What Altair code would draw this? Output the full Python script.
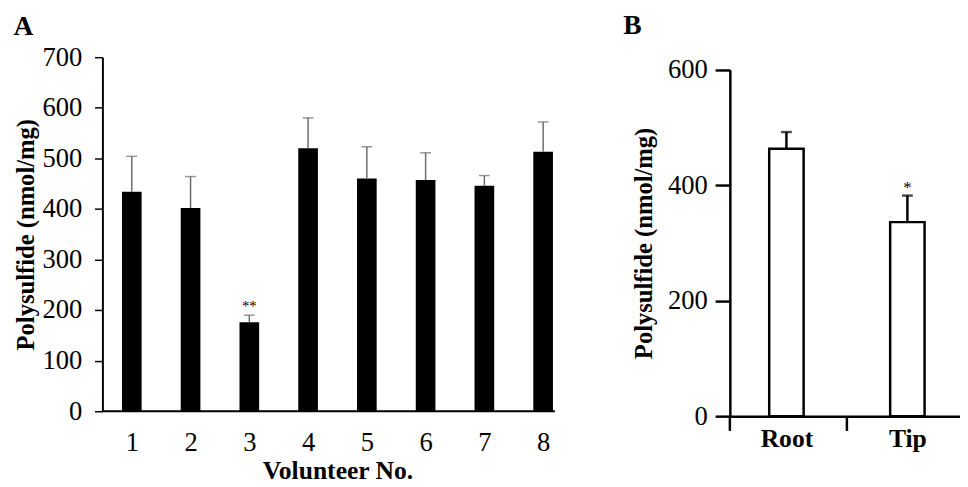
import altair as alt
import pandas as pd

FONT = "Liberation Serif"

# ---- Panel A data ----
volunteers = [1, 2, 3, 4, 5, 6, 7, 8]
means_a = [434, 402, 176, 520, 460, 457, 446, 513]
sds_a = [70, 62, 14, 60, 63, 54, 20, 59]
stars_a = ["", "", "**", "", "", "", "", ""]
yticks_a = [0, 100, 200, 300, 400, 500, 600, 700]

# ---- Panel B data ----
sites = ["Root", "Tip"]
site_pos = [1, 2]
means_b = [463, 336]
sds_b = [29, 46]
stars_b = ["", "*"]
yticks_b = [0, 200, 400, 600]

df_a = pd.DataFrame({"vol": volunteers, "mean": means_a, "sd": sds_a, "star": stars_a})
df_a["top"] = df_a["mean"] + df_a["sd"]

df_b = pd.DataFrame({"pos": site_pos, "site": sites, "mean": means_b, "sd": sds_b, "star": stars_b})
df_b["top"] = df_b["mean"] + df_b["sd"]

WA, HA = 478, 360
WB, HB = 234, 365
YB_TOP = 12.7
XA_DOM = [0.5, 8.5]
XA_AXIS_END = 8.2
XB_DOM = [0.5325, 2.435]
LABEL_FS = 27
TITLE_FS = 25

# ----- Panel A -----
xa_scale = alt.Scale(domain=XA_DOM, nice=False, zero=False, padding=0)
ya_scale = alt.Scale(domain=[0, 700], nice=False)

xa = alt.X("vol:Q", scale=xa_scale,
           axis=alt.Axis(values=volunteers, format="d", title="Volunteer No.", domain=False,
                         ticks=False, grid=False, labelPadding=19, labelFontSize=LABEL_FS,
                         labelFont=FONT, labelColor="black", titleFont=FONT, titleFontSize=26,
                         titleFontWeight="bold", titleColor="black", titlePadding=2,
                         labelAngle=0))
ya = alt.Y("mean:Q", scale=ya_scale,
           axis=alt.Axis(values=yticks_a, title="Polysulfide (nmol/mg)", grid=False,
                         tickSize=8, tickWidth=1.5, tickColor="black", domainColor="black",
                         domainWidth=2, labelPadding=13, labelFontSize=LABEL_FS, labelFont=FONT,
                         labelColor="black", titleFont=FONT, titleFontSize=TITLE_FS,
                         titleFontWeight="bold", titleColor="black", titlePadding=4))

base_a = alt.Chart(df_a)
bars_a = base_a.mark_bar(size=20, color="black", orient="vertical").encode(x=xa, y=ya)
err_a = base_a.mark_rule(color="#6b6b6b", strokeWidth=1.5).encode(
    x=alt.X("vol:Q", scale=xa_scale), y=alt.Y("mean:Q", scale=ya_scale), y2="top:Q")
cap_a = base_a.mark_tick(orient="horizontal", size=11, thickness=1.5, color="#6b6b6b").encode(
    x=alt.X("vol:Q", scale=xa_scale), y=alt.Y("top:Q", scale=ya_scale))
star_a = base_a.mark_text(fontSize=15, font=FONT, color="black", baseline="alphabetic", dy=-4).encode(
    x=alt.X("vol:Q", scale=xa_scale), y=alt.Y("top:Q", scale=ya_scale), text="star:N")
baseline_df = pd.DataFrame({"x0": [XA_DOM[0]], "x1": [XA_AXIS_END], "y": [0]})
base_rule_a = alt.Chart(baseline_df).mark_rule(color="black", strokeWidth=2).encode(
    x=alt.X("x0:Q", scale=xa_scale), x2="x1:Q", y=alt.Y("y:Q", scale=ya_scale))

panel_a = alt.layer(bars_a, base_rule_a, err_a, cap_a, star_a).properties(
    width=WA, height=HA,
    title=alt.Title("A", anchor="start", frame="bounds", fontSize=28, font=FONT,
                    fontWeight="bold", color="black", offset=2.5))

# ----- Panel B -----
xb_scale = alt.Scale(domain=XB_DOM, nice=False, zero=False, padding=0)
yb_scale = alt.Scale(domain=[0, 600], nice=False, range=[HB, YB_TOP])

xb = alt.X("pos:Q", scale=xb_scale,
           axis=alt.Axis(values=site_pos, labelExpr="datum.value == 1 ? 'Root' : 'Tip'",
                         title=None, ticks=False, grid=False, domainColor="black",
                         domainWidth=2.5, labelPadding=10, labelFontSize=26, labelFont=FONT,
                         labelFontWeight="bold", labelColor="black", labelAngle=0))
yb = alt.Y("mean:Q", scale=yb_scale,
           axis=alt.Axis(values=yticks_b, title="Polysulfide (nmol/mg)", grid=False,
                         tickSize=15, tickWidth=2.5, tickColor="black", domainColor="black",
                         domainWidth=2.5, labelPadding=8, labelFontSize=LABEL_FS, labelFont=FONT,
                         labelColor="black", titleFont=FONT, titleFontSize=TITLE_FS,
                         titleFontWeight="bold", titleColor="black", titlePadding=11))

base_b = alt.Chart(df_b)
bars_b = base_b.mark_bar(size=35, fill="white", stroke="black", strokeWidth=2.5,
                         orient="vertical").encode(x=xb, y=yb)
err_b = base_b.mark_rule(color="black", strokeWidth=2.5).encode(
    x=alt.X("pos:Q", scale=xb_scale), y=alt.Y("mean:Q", scale=yb_scale), y2="top:Q")
cap_b = base_b.mark_tick(orient="horizontal", size=11, thickness=2.5, color="black").encode(
    x=alt.X("pos:Q", scale=xb_scale), y=alt.Y("top:Q", scale=yb_scale))
star_b = base_b.mark_text(fontSize=17, font=FONT, color="black", baseline="alphabetic", dy=-3).encode(
    x=alt.X("pos:Q", scale=xb_scale), y=alt.Y("top:Q", scale=yb_scale), text="star:N")
xticks_b = pd.DataFrame({"x": [XB_DOM[0], 1.5]})
xtick_rules_b = alt.Chart(xticks_b).mark_rule(color="black", strokeWidth=2.5).encode(
    x=alt.X("x:Q", scale=xb_scale), y=alt.value(HB), y2=alt.value(HB + 15))

panel_b = alt.layer(bars_b, err_b, cap_b, star_b, xtick_rules_b).properties(
    width=WB, height=HB,
    title=alt.Title("B", anchor="start", frame="bounds", fontSize=28, font=FONT,
                    fontWeight="bold", color="black", offset=16, dx=-9))

chart = alt.hconcat(panel_a, panel_b, spacing=51).properties(
    padding={"left": 5, "top": 0, "right": 0, "bottom": 0},
    background="white"
).configure_view(stroke=None)

chart.save("out.html", embed_options={"renderer": "svg", "actions": False})
